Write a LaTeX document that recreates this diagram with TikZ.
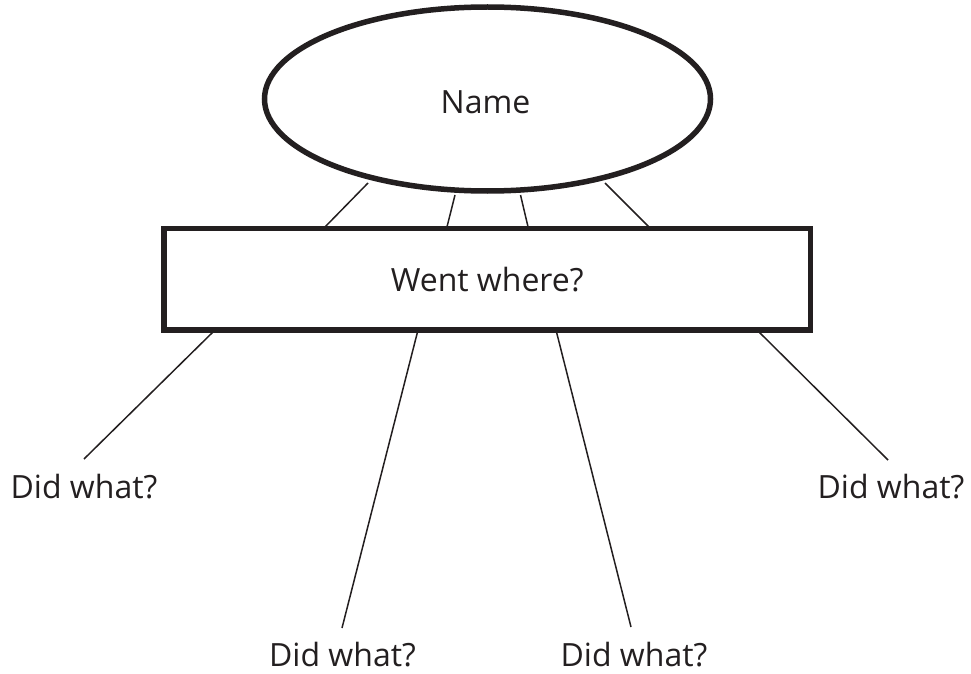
\documentclass[tikz,border=0pt]{standalone}
\usepackage{fontspec}
\setmainfont{Open Sans}
\usetikzlibrary{shapes.geometric}
\definecolor{ink}{HTML}{231F20}
\begin{document}
\begin{tikzpicture}[x=1pt,y=-1pt,
  thickshape/.style={draw=ink,line width=5.5pt,fill=white},
  conn/.style={draw=ink,line width=1.5pt},
  lbl/.style={text=ink,font=\fontsize{32}{38}\selectfont,inner sep=0pt}]
\useasboundingbox (0,0) rectangle (971,674);
\coordinate (e1) at (368,183);
\coordinate (e2) at (455,195);
\coordinate (e3) at (520.5,195);
\coordinate (e4) at (605,183);
\coordinate (r1) at (324,228);
\coordinate (r2) at (446.7,228);
\coordinate (r3) at (528.3,228);
\coordinate (r4) at (650,228);
\coordinate (b1) at (215,330);
\coordinate (b2) at (418,330);
\coordinate (b3) at (556,330);
\coordinate (b4) at (757,330);
\coordinate (t1) at (84,459);
\coordinate (t2) at (342,628);
\coordinate (t3) at (631,627);
\coordinate (t4) at (888,460);
\draw[conn] (e1) -- (r1);
\draw[conn] (e2) -- (r2);
\draw[conn] (e3) -- (r3);
\draw[conn] (e4) -- (r4);
\draw[conn] (b1) -- (t1);
\draw[conn] (b2) -- (t2);
\draw[conn] (b3) -- (t3);
\draw[conn] (b4) -- (t4);
\node[thickshape,ellipse,minimum width=446pt,minimum height=184pt,inner sep=0pt] (name) at (487.5,99) {};
\node[lbl] (nametext) at (485.5,102) {Name};
\node[thickshape,rectangle,minimum width=646.5pt,minimum height=101.5pt,inner sep=0pt,lbl] (went) at (487.2,279.2) {Went where?};
\node[lbl] (d1) at (84,487) {Did what?};
\node[lbl] (d2) at (342.5,655) {Did what?};
\node[lbl] (d3) at (634,655) {Did what?};
\node[lbl] (d4) at (891,487) {Did what?};
\end{tikzpicture}
\end{document}
